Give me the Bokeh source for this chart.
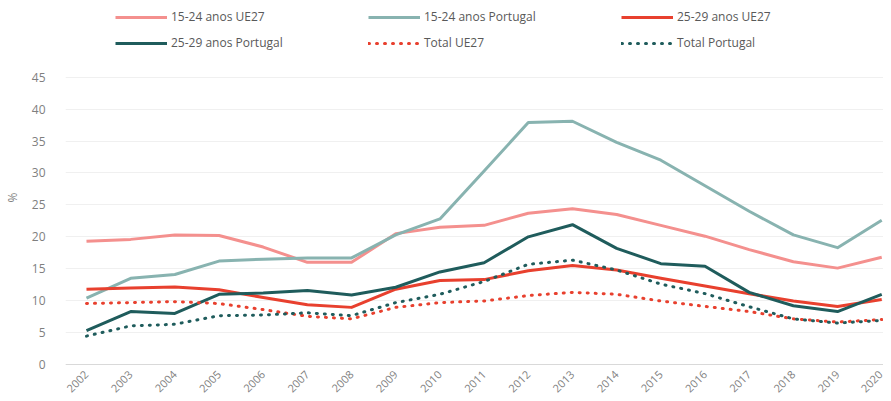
from bokeh.plotting import figure
from bokeh.models import Range1d, FixedTicker, Legend, LegendItem
from bokeh.embed import file_html
from bokeh.resources import INLINE
import math

years = list(range(2002, 2021))
year_labels = [str(y) for y in years]

ue27_15_24 = [19.3, 19.6, 20.3, 20.2, 18.4, 16.0, 16.0, 20.5, 21.5, 21.8, 23.7, 24.4, 23.5, 21.8, 20.1, 18.0, 16.1, 15.1, 16.8]
pt_15_24 = [10.4, 13.5, 14.1, 16.2, 16.5, 16.7, 16.7, 20.3, 22.8, 30.3, 37.9, 38.1, 34.8, 32.0, 28.0, 24.0, 20.3, 18.3, 22.6]
ue27_25_29 = [11.8, 12.0, 12.15, 11.7, 10.5, 9.35, 8.95, 11.8, 13.15, 13.3, 14.7, 15.5, 14.8, 13.5, 12.3, 11.1, 9.95, 9.1, 10.2]
pt_25_29 = [5.3, 8.3, 8.0, 11.0, 11.2, 11.6, 10.9, 12.1, 14.5, 15.95, 20.0, 21.9, 18.2, 15.8, 15.4, 11.3, 9.2, 8.3, 11.0]
ue27_total = [9.55, 9.7, 9.85, 9.55, 8.6, 7.55, 7.15, 8.95, 9.7, 9.95, 10.8, 11.3, 11.0, 9.95, 9.1, 8.3, 7.15, 6.65, 7.05]
pt_total = [4.45, 6.05, 6.3, 7.65, 7.75, 8.1, 7.65, 9.7, 11.0, 13.0, 15.7, 16.35, 14.8, 12.6, 11.1, 9.05, 7.15, 6.5, 6.9]

y_ticks = list(range(0, 50, 5))

FONT = "Open Sans"

p = figure(width=883, height=393, output_backend="svg", toolbar_location=None,
           x_range=Range1d(2001.525, 2020.04), y_range=Range1d(-4.54, 56.86),
           min_border_left=59, min_border_right=0, min_border_top=1, min_border_bottom=0)
p.outline_line_color = None
p.background_fill_color = "white"

series = [
    ("15-24 anos UE27", ue27_15_24, "#F4908E", None),
    ("15-24 anos Portugal", pt_15_24, "#88B3B0", None),
    ("25-29 anos UE27", ue27_25_29, "#E8402E", None),
    ("25-29 anos Portugal", pt_25_29, "#1F5C5C", None),
    ("Total UE27", ue27_total, "#E8402E", "1 7"),
    ("Total Portugal", pt_total, "#1F5C5C", "1 7"),
]

items = []
for name, vals, color, dash in series:
    kw = dict(line_color=color, line_width=3, line_join="round")
    if dash:
        kw["line_dash"] = dash
        kw["line_cap"] = "round"
    r = p.line(years, vals, **kw)
    items.append(LegendItem(label=name, renderers=[r]))

legend = Legend(items=items, orientation="horizontal", ncols=3,
                location=(50, 342), glyph_width=52, glyph_height=16,
                label_height=16, label_width=188, label_standoff=4, spacing=9,
                padding=0, margin=0, border_line_color=None, background_fill_alpha=0,
                label_text_font=FONT, label_text_font_size="12px", label_text_color="#595959")
p.add_layout(legend, "center")

# y axis
p.yaxis.ticker = FixedTicker(ticks=y_ticks)
p.yaxis.axis_line_color = None
p.yaxis.major_tick_line_color = None
p.yaxis.minor_tick_line_color = None
p.yaxis.major_label_standoff = 14
p.yaxis.major_label_text_font = FONT
p.yaxis.major_label_text_font_size = "12px"
p.yaxis.major_label_text_color = "#7F7F7F"
p.yaxis.axis_label = "%"
p.yaxis.axis_label_text_font = FONT
p.yaxis.axis_label_text_font_size = "12px"
p.yaxis.axis_label_text_font_style = "normal"
p.yaxis.axis_label_text_color = "#7F7F7F"
p.yaxis.axis_label_standoff = 8

# x axis placed at y = 0 inside the frame
p.xaxis.fixed_location = 0
p.xaxis.ticker = FixedTicker(ticks=years)
p.xaxis.major_label_overrides = {y: l for y, l in zip(years, year_labels)}
p.xaxis.major_label_orientation = math.pi / 4
p.xaxis.axis_line_color = "#D9D9D9"
p.xaxis.major_tick_line_color = None
p.xaxis.minor_tick_line_color = None
p.xaxis.major_label_standoff = 2
p.xaxis.major_label_text_font = FONT
p.xaxis.major_label_text_font_size = "11px"
p.xaxis.major_label_text_color = "#7F7F7F"

p.xgrid.grid_line_color = None
p.ygrid.ticker = FixedTicker(ticks=y_ticks)
p.ygrid.grid_line_color = "#F0F0F0"

open("out.html", "w").write(file_html(p, INLINE))
